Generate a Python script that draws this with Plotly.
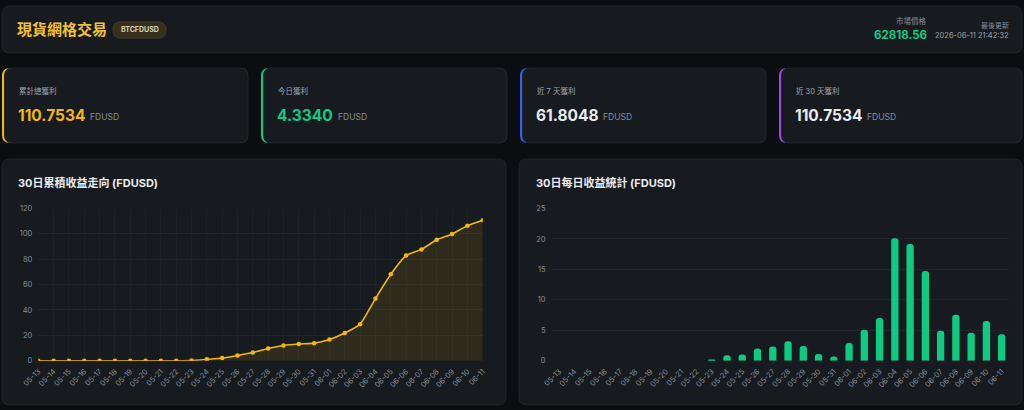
import plotly.graph_objects as go

W, H = 1024, 410

dates = ["05-13", "05-14", "05-15", "05-16", "05-17", "05-18", "05-19", "05-20",
         "05-21", "05-22", "05-23", "05-24", "05-25", "05-26", "05-27", "05-28",
         "05-29", "05-30", "05-31", "06-01", "06-02", "06-03", "06-04", "06-05",
         "06-06", "06-07", "06-08", "06-09", "06-10", "06-11"]

daily_profit = [0, 0, 0, 0, 0, 0, 0, 0, 0, 0,
                0.18, 0.90, 1.00, 2.00, 2.35, 3.20, 2.40, 1.10, 0.70, 2.90,
                5.10, 7.00, 20.12, 19.15, 14.75, 4.90, 7.55, 4.60, 6.52, 4.334]

cumulative_profit = [0, 0, 0, 0, 0, 0, 0, 0, 0, 0,
                     0.18, 1.08, 2.08, 4.08, 6.43, 9.63, 12.03, 13.13, 13.83, 16.73,
                     21.83, 28.83, 48.95, 68.10, 82.85, 87.75, 95.30, 99.90, 106.42, 110.75]

card_labels = ["累計總獲利", "今日獲利", "近 7 天獲利", "近 30 天獲利"]
card_values = ["110.7534", "4.3340", "61.8048", "110.7534"]
card_unit = "FDUSD"

title_text = "現貨網格交易"
pair_text = "BTCFDUSD"
price_label = "市場價格"
price_value = "62818.56"
update_label = "最後更新"
update_value = "2026-06-11 21:42:32"
chart1_title = "30日累積收益走向 (FDUSD)"
chart2_title = "30日每日收益統計 (FDUSD)"

YELLOW = "#f0b90b"
GREEN = "#0ecb81"
BLUE = "#3b5cf5"
PURPLE = "#a347e6"
PAGE_BG = "#0b0e11"
PANEL_BG = "#171a1f"
PANEL_BORDER = "#20242a"
GREY = "#848e9c"
WHITE = "#eaecef"
GRID = "#22262c"

FONT = "Inter, 'Noto Sans CJK TC', 'Noto Sans', sans-serif"


def px(x):
    return x / W


def py(y):
    return 1 - y / H


def rrect(x0, y0, x1, y1, r, fill, line=None, lw=1):
    rx, ry = r / W, r / H
    X0, X1 = px(x0), px(x1)
    Y0, Y1 = py(y0), py(y1)
    path = (f"M {X0+rx},{Y0} L {X1-rx},{Y0} Q {X1},{Y0} {X1},{Y0-ry} "
            f"L {X1},{Y1+ry} Q {X1},{Y1} {X1-rx},{Y1} "
            f"L {X0+rx},{Y1} Q {X0},{Y1} {X0},{Y1+ry} "
            f"L {X0},{Y0-ry} Q {X0},{Y0} {X0+rx},{Y0} Z")
    d = dict(type="path", path=path, xref="paper", yref="paper",
             fillcolor=fill, layer="below")
    d["line"] = dict(color=line, width=lw) if line else dict(width=0)
    return d


shapes = []
annotations = []


def text(x, y, s, size, color, xanchor="left", bold=False):
    annotations.append(dict(
        x=px(x), y=py(y), xref="paper", yref="paper", text=(f"<b>{s}</b>" if bold else s),
        showarrow=False, xanchor=xanchor, yanchor="middle",
        font=dict(size=size, color=color, family=FONT)))


# Header panel
shapes.append(rrect(2, 6, 1022, 53, 8, PANEL_BG, PANEL_BORDER))
text(15, 30, title_text, 15, "#f3c232", bold=True)
shapes.append(rrect(113, 22, 166, 38, 8, "#352f1c", "#453c22"))
text(139.5, 30, pair_text, 7, "#d9d2b5", xanchor="center", bold=True)
text(929, 21, price_label, 7.5, GREY, xanchor="right")
text(929, 35, price_value, 11.5, GREEN, xanchor="right", bold=True)
text(1011, 25, update_label, 7, GREY, xanchor="right")
text(1011, 36, update_value, 7.5, "#9aa0a8", xanchor="right")

# Cards
card_x = [(2, 248), (261, 507), (520, 766), (779, 1022)]
accents = [YELLOW, GREEN, BLUE, PURPLE]
value_colors = [YELLOW, GREEN, WHITE, WHITE]
unit_x = [88, 336, 601, 865]
for i, (x0, x1) in enumerate(card_x):
    shapes.append(rrect(x0, 68, x1, 143, 8, accents[i]))
    shapes.append(rrect(x0 + 2.5, 68, x1, 143, 8, PANEL_BG, PANEL_BORDER))
    text(x0 + 15, 91, card_labels[i], 7.5, "#a0a6ae")
    text(x0 + 14, 115, card_values[i], 15.5, value_colors[i], bold=True)
    text(unit_x[i], 117, card_unit, 8.5, GREY)

# Chart panels
shapes.append(rrect(2, 159, 506, 405, 8, PANEL_BG, PANEL_BORDER))
shapes.append(rrect(519, 159, 1022, 405, 8, PANEL_BG, PANEL_BORDER))
text(16, 183, chart1_title, 11, WHITE, bold=True)
text(534, 183, chart2_title, 11, WHITE, bold=True)

fig = go.Figure()

fig.add_trace(go.Scatter(
    x=dates, y=cumulative_profit, mode="lines+markers",
    line=dict(color=YELLOW, width=1.6, shape="spline", smoothing=0.5),
    marker=dict(color=YELLOW, size=4.5),
    fill="tozeroy", fillcolor="rgba(240,185,11,0.11)",
    xaxis="x", yaxis="y", hoverinfo="x+y", showlegend=False))

fig.add_trace(go.Bar(
    x=dates, y=daily_profit, marker=dict(color=GREEN, cornerradius=3, line=dict(width=0)),
    xaxis="x2", yaxis="y2", showlegend=False))

y_dom = [py(360.7), py(208.5)]
xtickfont = dict(size=7.5, color=GREY, family=FONT)
ytickfont = dict(size=7.5, color=GREY, family=FONT)

fig.update_layout(
    width=W, height=H, margin=dict(l=0, r=0, t=0, b=0, autoexpand=False),
    paper_bgcolor=PAGE_BG, plot_bgcolor="rgba(0,0,0,0)",
    shapes=shapes, annotations=annotations, bargap=0.52,
    xaxis=dict(domain=[px(38.3), px(482.7)], type="category", range=[0, 29],
               showgrid=True, gridcolor="#1d2126", gridwidth=1, zeroline=False,
               showline=False, ticks="", tickangle=-45, tickfont=xtickfont,
               ticklabelstandoff=4, anchor="y", fixedrange=True, automargin=False),
    yaxis=dict(domain=y_dom, range=[0, 120], dtick=20, showgrid=True,
               gridcolor=GRID, zeroline=False, showline=False, ticks="",
               tickfont=ytickfont, ticklabelstandoff=5, anchor="x", fixedrange=True,
               automargin=False),
    xaxis2=dict(domain=[px(551.5), px(1009.3)], type="category", range=[-0.5, 29.5],
                showgrid=False, zeroline=False, showline=False, ticks="",
                tickangle=-45, tickfont=xtickfont, ticklabelstandoff=4,
                anchor="y2", fixedrange=True, automargin=False),
    yaxis2=dict(domain=y_dom, range=[0, 25], dtick=5, showgrid=True,
                gridcolor=GRID, zeroline=False, showline=False, ticks="",
                tickfont=ytickfont, ticklabelstandoff=5, anchor="x2", fixedrange=True,
                automargin=False),
)

fig.write_html("out.html")
